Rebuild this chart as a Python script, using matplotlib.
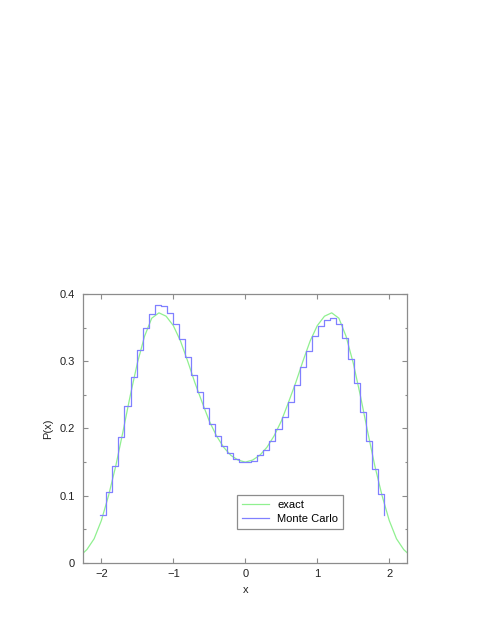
import numpy as np
import matplotlib
matplotlib.use('Agg')
import matplotlib.pyplot as plt
from matplotlib.ticker import MultipleLocator, FormatStrFormatter

plt.rcParams['font.family'] = ['Liberation Sans', 'DejaVu Sans']

# exact distribution
x_exact = [-2.25, -2.2, -2.1, -2.0, -1.9, -1.8, -1.7, -1.6, -1.5, -1.4, -1.3, -1.2,
           -1.1, -1.0, -0.9, -0.8, -0.7, -0.6, -0.5, -0.4, -0.3, -0.2, -0.1, 0.0,
           0.1, 0.2, 0.3, 0.4, 0.5, 0.6, 0.7, 0.8, 0.9, 1.0, 1.1, 1.2,
           1.3, 1.4, 1.5, 1.6, 1.7, 1.8, 1.9, 2.0, 2.1, 2.2, 2.25]
p_exact = [0.015, 0.020, 0.036, 0.063, 0.100, 0.144, 0.195, 0.248, 0.297, 0.337, 0.364, 0.372,
           0.367, 0.353, 0.330, 0.300, 0.268, 0.239, 0.211, 0.189, 0.172, 0.160, 0.153, 0.150,
           0.153, 0.160, 0.172, 0.189, 0.211, 0.239, 0.268, 0.300, 0.330, 0.353, 0.367, 0.372,
           0.364, 0.337, 0.297, 0.248, 0.195, 0.144, 0.100, 0.063, 0.036, 0.020, 0.015]

# Monte Carlo histogram (left bin edges, step plot)
bin_start = -2.014
bin_width = 0.0839
p_mc = [0.072, 0.105, 0.144, 0.187, 0.233, 0.277, 0.317, 0.349, 0.371, 0.383,
        0.382, 0.372, 0.355, 0.333, 0.307, 0.279, 0.255, 0.230, 0.207, 0.189,
        0.174, 0.163, 0.155, 0.150, 0.150, 0.152, 0.161, 0.168, 0.182, 0.199,
        0.217, 0.240, 0.264, 0.291, 0.315, 0.337, 0.353, 0.361, 0.364, 0.355,
        0.335, 0.304, 0.267, 0.224, 0.181, 0.140, 0.102, 0.072]
x_mc = bin_start + bin_width*np.arange(len(p_mc))

fig = plt.figure(figsize=(4.91, 6.35), dpi=100)
ax = fig.add_axes([0.1697, 0.1134, 0.6598, 0.4236])

ax.plot(x_exact, p_exact, color='#90f090', lw=0.9, label='exact')
ax.plot(x_mc, p_mc, color='#8080ff', lw=0.9, drawstyle='steps-post', label='Monte Carlo')

ax.set_xlim(-2.25, 2.25)
ax.set_ylim(0, 0.4)
ax.xaxis.set_major_locator(MultipleLocator(1))
ax.yaxis.set_major_locator(MultipleLocator(0.1))
ax.yaxis.set_minor_locator(MultipleLocator(0.05))
ax.yaxis.set_major_formatter(FormatStrFormatter('%g'))

gray = '#8c8c8c'
for s in ax.spines.values():
    s.set_color(gray)
    s.set_linewidth(0.9)
ax.tick_params(which='both', direction='in', top=True, right=True, color=gray,
               width=0.8, labelsize=8, labelcolor='#222222')
ax.tick_params(which='major', length=3.6)
ax.tick_params(which='minor', length=1.8)
ax.tick_params(axis='y', pad=6)
ax.tick_params(axis='x', pad=4)

ax.set_xlabel('x', fontsize=8, color='#222222')
ax.set_ylabel('P(x)', fontsize=8, color='#222222')
ax.xaxis.set_label_coords(0.5, -0.083)
ax.yaxis.set_label_coords(-0.092, 0.5)

leg = ax.legend(loc='lower left', bbox_to_anchor=(0.4735, 0.1254), fontsize=8,
                frameon=True, fancybox=False, shadow=False, framealpha=1,
                handlelength=2.5, handletextpad=0.7, labelspacing=0.35,
                borderpad=0.45, borderaxespad=0)
leg.get_frame().set_edgecolor(gray)
leg.get_frame().set_linewidth(0.9)

fig.savefig('out.png', dpi=100)
